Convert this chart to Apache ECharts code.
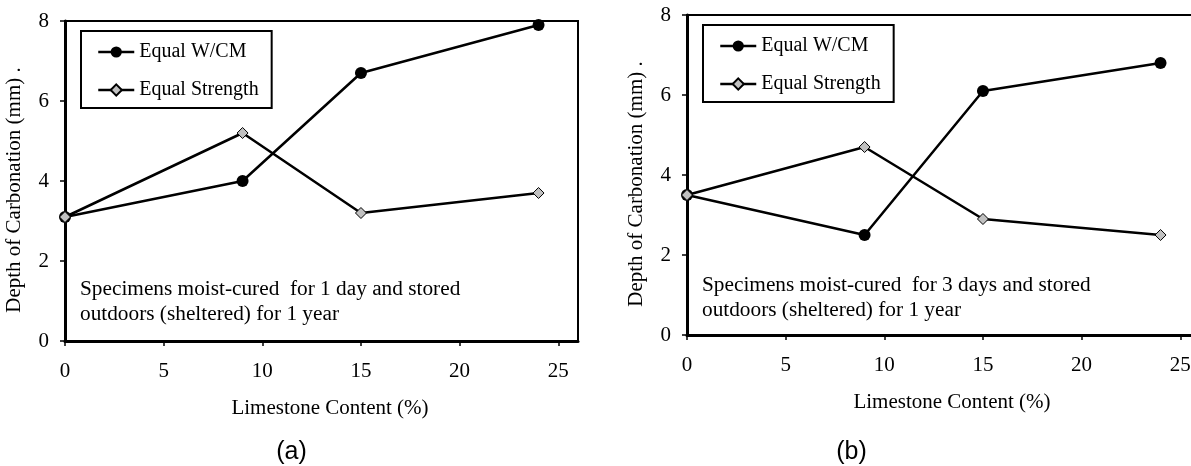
<!DOCTYPE html>
<html>
<head>
<meta charset="utf-8">
<script src="https://cdn.jsdelivr.net/npm/echarts@6/dist/echarts.min.js"></script>
<style>
  html, body { margin: 0; padding: 0; background: #fff; }
  #chart { width: 1191px; height: 466px; }
</style>
</head>
<body>
<div id="chart"></div>
<script>
// Limestone content of the mixes (%)
const limestone = [0, 9, 15, 24];

// Panel (a): moist-cured 1 day, outdoors sheltered 1 year
const aEqualWcm = [3.1, 4.0, 6.7, 7.9];
const aEqualStrength = [3.1, 5.2, 3.2, 3.7];

// Panel (b): moist-cured 3 days, outdoors sheltered 1 year
const bEqualWcm = [3.5, 2.5, 6.1, 6.8];
const bEqualStrength = [3.5, 4.7, 2.9, 2.5];

// Axis ticks
const xTicks = [0, 5, 10, 15, 20, 25];
const yTicks = [0, 2, 4, 6, 8];

const seriesNames = ['Equal W/CM', 'Equal Strength'];
const panelLabels = ['(a)', '(b)'];
const panelNotes = [
  'Specimens moist-cured  for 1 day and stored\noutdoors (sheltered) for 1 year',
  'Specimens moist-cured  for 3 days and stored\noutdoors (sheltered) for 1 year'
];

const SERIF = '"Liberation Serif", "Times New Roman", serif';
const SANS = '"Liberation Sans", Arial, sans-serif';
const LINE_W = 2.5;

const grids = [
  { left: 65, top: 21, width: 513, height: 320 },
  { left: 687, top: 15, width: 513, height: 320 }
];

function pairs(xs, ys) { return xs.map((x, i) => [x, ys[i]]); }

const chart = echarts.init(document.getElementById('chart'), null, { renderer: 'canvas' });

const option = {
  backgroundColor: '#fff',
  animation: false,
  grid: grids.map(g => Object.assign({
    show: true, borderColor: '#000', borderWidth: 2,
    backgroundColor: 'transparent', outerBoundsMode: 'none', containLabel: false
  }, g)),
  legend: grids.map((g, i) => ({
    data: seriesNames,
    orient: 'vertical',
    left: g.left + 16,
    top: g.top + 10,
    padding: [11, 13, 8, 16],
    itemGap: 18,
    itemWidth: 36,
    itemHeight: 14,
    borderColor: '#000',
    borderWidth: 2,
    backgroundColor: '#fff',
    selectedMode: false,
    lineStyle: { width: LINE_W, color: '#000' },
    textStyle: { fontFamily: SERIF, fontSize: 20, color: '#000', lineHeight: 20 }
  })),
  xAxis: grids.map((g, i) => ({
    type: 'value', gridIndex: i, min: 0, max: 26, interval: 5,
    name: 'Limestone Content (%)',
    nameLocation: 'middle', nameGap: 57,
    nameTextStyle: { fontFamily: SERIF, fontSize: 21, color: '#000', padding: [0, 0, 0, 17] },
    axisLine: { show: true, onZero: false, lineStyle: { color: '#000', width: 3 } },
    axisTick: { show: true, inside: false, length: 5, lineStyle: { color: '#000', width: 1.5 }, customValues: xTicks },
    axisLabel: { fontFamily: SERIF, fontSize: 21, color: '#000', margin: 20, customValues: xTicks },
    splitLine: { show: false }
  })),
  yAxis: grids.map((g, i) => ({
    type: 'value', gridIndex: i, min: 0, max: 8, interval: 2,
    name: 'Depth of Carbonation (mm) .',
    nameLocation: 'middle', nameGap: 40, nameRotate: 90,
    nameTextStyle: { fontFamily: SERIF, fontSize: 21, color: '#000', padding: [0, 18, 0, 0] },
    axisLine: { show: true, onZero: false, lineStyle: { color: '#000', width: 3 } },
    axisTick: { show: true, inside: false, length: 5, lineStyle: { color: '#000', width: 1.5 }, customValues: yTicks },
    axisLabel: { fontFamily: SERIF, fontSize: 21, color: '#000', margin: 16, customValues: yTicks },
    splitLine: { show: false }
  })),
  series: [],
  graphic: []
};

const panels = [[aEqualWcm, aEqualStrength], [bEqualWcm, bEqualStrength]];
panels.forEach((vals, i) => {
  option.series.push({
    name: seriesNames[0], type: 'line', xAxisIndex: i, yAxisIndex: i,
    data: pairs(limestone, vals[0]),
    symbol: 'circle', symbolSize: 12,
    lineStyle: { color: '#000', width: LINE_W },
    itemStyle: { color: '#000', borderColor: '#000', borderWidth: 0 },
    z: 3
  });
  option.series.push({
    name: seriesNames[1], type: 'line', xAxisIndex: i, yAxisIndex: i,
    data: pairs(limestone, vals[1]),
    symbol: 'diamond', symbolSize: 11,
    lineStyle: { color: '#000', width: LINE_W },
    itemStyle: { color: '#c0c0c0', borderColor: '#000', borderWidth: 1 },
    z: 4
  });
});

// Curing note inside each panel and the panel letters underneath
const noteTops = [277, 273];
grids.forEach((g, i) => {
  option.graphic.push({
    type: 'text', x: g.left + 15, y: noteTops[i], z: 10,
    style: { text: panelNotes[i], fontFamily: SERIF, fontSize: 21.3, lineHeight: 25,
             fill: '#000', verticalAlign: 'top', align: 'left' }
  });
  option.graphic.push({
    type: 'text', x: [291.5, 851.5][i], y: 452, z: 10,
    style: { text: panelLabels[i], fontFamily: SANS, fontSize: 25,
             fill: '#000', verticalAlign: 'middle', align: 'center' }
  });
});

chart.setOption(option);
</script>
</body>
</html>
